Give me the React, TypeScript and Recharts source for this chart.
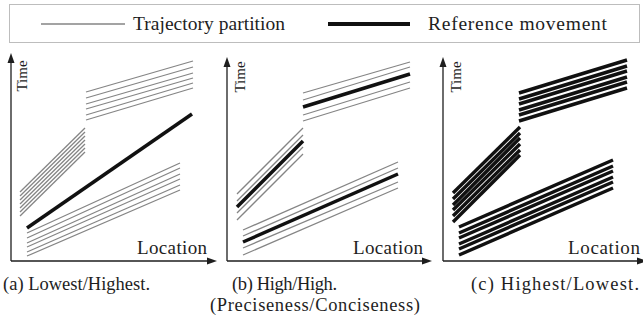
import React from "react";
import { LineChart, Line, XAxis, YAxis, ReferenceLine, ReferenceDot } from "recharts";

// each segment: [x1, y1, x2, y2] in location/time units (0..104)
type Seg = [number, number, number, number];

// (a) Lowest/Highest
const aSteep: Seg[] = [
  [4.5, 34.5, 37, 66.5], [4.5, 32.5, 37, 64.5], [4.5, 30.5, 37, 62.5], [4.5, 28.5, 37, 60.5],
  [4.5, 26.5, 37, 58.5], [4.5, 24.5, 37, 56.5], [4.5, 22.5, 37, 54.5],
];
const aUpper: Seg[] = [
  [37.5, 84.5, 91, 100], [37.5, 81.5, 91, 97], [37.5, 78.5, 91, 94],
  [37.5, 76, 91, 91.5], [37.5, 73, 91, 89], [37.5, 70.5, 91, 86.5],
];
const aLower: Seg[] = [
  [8, 14, 84.5, 49], [8, 11.5, 84.5, 46.5], [8, 9, 84.5, 43.5],
  [8, 7, 84.5, 41], [8, 4.5, 84.5, 38], [8, 2.5, 84.5, 35.5],
];
const aReference: Seg[] = [[8, 16.5, 90.5, 73.5]];

// (b) High/High
const bPartitions: Seg[] = [
  [5, 33.5, 38, 66.5], [5, 30, 38, 63], [5, 24, 38, 57], [5, 20.5, 38, 53.5],
  [38, 84, 91.5, 99.5], [38, 80.5, 91.5, 97], [38, 73, 91.5, 89.5], [38, 70, 91.5, 86.5],
  [8, 15.5, 85.5, 49.5], [8, 12.5, 85.5, 46.5], [8, 6.5, 85.5, 39.5], [8, 3, 85.5, 36.5],
];
const bReference: Seg[] = [
  [5, 27, 38, 60], [38, 77, 91.5, 93.5], [8, 9.5, 85.5, 43.5],
];

// (c) Highest/Lowest
const cReference: Seg[] = [
  [5, 34, 38.5, 67], [5, 31, 38.5, 64], [5, 28, 38.5, 61.5],
  [5, 25.5, 38.5, 58.5], [5, 22.5, 38.5, 55.5], [5, 19.5, 38.5, 53],
  [38, 84, 92, 100.5], [38, 81, 92, 97.5], [38, 78.5, 92, 95],
  [38, 75.5, 92, 92], [38, 73, 92, 89.5], [38, 70, 92, 86.5],
  [8, 17, 85, 50.5], [8, 14, 85, 47.5], [8, 11.5, 85, 45],
  [8, 8.5, 85, 42], [8, 6, 85, 39.5], [8, 3, 85, 36.5],
];

const FONT = '"Liberation Serif", "Times New Roman", serif';
const INK = "#1e1e1e";
const GRAY = "#858585";

const toPoints = (s: Seg) => [
  { x: s[0], y: s[1] },
  { x: s[2], y: s[3] },
];

const ArrowUp = (p: any) => (
  <path d={`M${p.cx},${p.cy - 5} L${p.cx - 3.5},${p.cy + 5} L${p.cx + 3.5},${p.cy + 5} Z`} fill={INK} />
);
const ArrowRight = (p: any) => (
  <path d={`M${p.cx + 5},${p.cy} L${p.cx - 5},${p.cy - 3.5} L${p.cx - 5},${p.cy + 3.5} Z`} fill={INK} />
);

function Panel({
  left,
  thin,
  thick,
  thickWidth,
  yEnd,
  xEnd,
}: {
  left: number;
  thin: Seg[];
  thick: Seg[];
  thickWidth: number;
  yEnd: number;
  xEnd: number;
}) {
  return (
    <div style={{ position: "absolute", left: left - 11, top: 0 }}>
      <LineChart width={232} height={272} margin={{ top: 53, left: 11, right: 13, bottom: 11 }}>
        <XAxis type="number" dataKey="x" domain={[0, 104]} hide allowDataOverflow />
        <YAxis type="number" dataKey="y" domain={[0, 104]} hide allowDataOverflow />
        <ReferenceLine segment={[{ x: 0, y: 0 }, { x: 0, y: yEnd - 2 }]} stroke={INK} strokeWidth={1.3} ifOverflow="visible" />
        <ReferenceLine segment={[{ x: 0, y: 0 }, { x: xEnd - 2, y: 0 }]} stroke={INK} strokeWidth={1.3} ifOverflow="visible" />
        <ReferenceDot x={0} y={yEnd} r={4} shape={ArrowUp} ifOverflow="visible" />
        <ReferenceDot x={xEnd} y={0} r={4} shape={ArrowRight} ifOverflow="visible" />
        {thin.map((s, i) => (
          <Line
            key={`t${i}`}
            data={toPoints(s)}
            dataKey="y"
            stroke={GRAY}
            strokeWidth={1.3}
            dot={false}
            activeDot={false}
            isAnimationActive={false}
          />
        ))}
        {thick.map((s, i) => (
          <Line
            key={`r${i}`}
            data={toPoints(s)}
            dataKey="y"
            stroke="#111"
            strokeWidth={thickWidth}
            dot={false}
            activeDot={false}
            isAnimationActive={false}
          />
        ))}
      </LineChart>
    </div>
  );
}

export default function App() {
  return (
    <div
      style={{
        position: "absolute",
        left: 0,
        top: 0,
        width: 643,
        height: 323,
        overflow: "hidden",
        background: "#fff",
        fontFamily: FONT,
      }}
    >
      <Panel left={11} thin={[...aSteep, ...aUpper, ...aLower]} thick={aReference} thickWidth={3.5} yEnd={101.5} xEnd={100.5} />
      <Panel left={227} thin={bPartitions} thick={bReference} thickWidth={3.5} yEnd={99.5} xEnd={100} />
      <Panel left={443} thin={[]} thick={cReference} thickWidth={3.4} yEnd={99.5} xEnd={99.5} />

      <svg width={643} height={323} style={{ position: "absolute", left: 0, top: 0, pointerEvents: "none" }}>
        {/* legend */}
        <rect x={9.5} y={4.5} width={630} height={38} fill="none" stroke="#bdbdbd" strokeWidth={1} />
        <line x1={41} y1={24} x2={125} y2={24} stroke={GRAY} strokeWidth={1.5} />
        <text x={133} y={30} fontSize={19.5} textLength={152} lengthAdjust="spacing" fontFamily={FONT} fill={INK}>Trajectory partition</text>
        <line x1={328} y1={24} x2={410} y2={24} stroke="#111" strokeWidth={4} />
        <text x={428} y={30} fontSize={19.5} textLength={179} lengthAdjust="spacing" fontFamily={FONT} fill={INK}>Reference movement</text>

        {/* axis titles */}
        <text transform="translate(27,76) rotate(-90)" textAnchor="middle" fontSize={15} fontFamily={FONT} fill={INK}>Time</text>
        <text transform="translate(245,77) rotate(-90)" textAnchor="middle" fontSize={15} fontFamily={FONT} fill={INK}>Time</text>
        <text transform="translate(461,77) rotate(-90)" textAnchor="middle" fontSize={15} fontFamily={FONT} fill={INK}>Time</text>
        <text x={137} y={254} textLength={70} lengthAdjust="spacing" fontSize={19} fontFamily={FONT} fill={INK}>Location</text>
        <text x={353} y={254} textLength={70} lengthAdjust="spacing" fontSize={19} fontFamily={FONT} fill={INK}>Location</text>
        <text x={568} y={254} textLength={72} lengthAdjust="spacing" fontSize={19} fontFamily={FONT} fill={INK}>Location</text>

        {/* captions */}
        <text x={3} y={290} fontSize={18.5} textLength={147} lengthAdjust="spacing" fontFamily={FONT} fill={INK}>(a) Lowest/Highest.</text>
        <text x={232} y={290} fontSize={18.5} textLength={105} lengthAdjust="spacing" fontFamily={FONT} fill={INK}>(b) High/High.</text>
        <text x={471} y={290} fontSize={18.5} textLength={168} lengthAdjust="spacing" fontFamily={FONT} fill={INK}>(c) Highest/Lowest.</text>
        <text x={210} y={311} fontSize={18.5} textLength={210} lengthAdjust="spacing" fontFamily={FONT} fill={INK}>(Preciseness/Conciseness)</text>
      </svg>
    </div>
  );
}
